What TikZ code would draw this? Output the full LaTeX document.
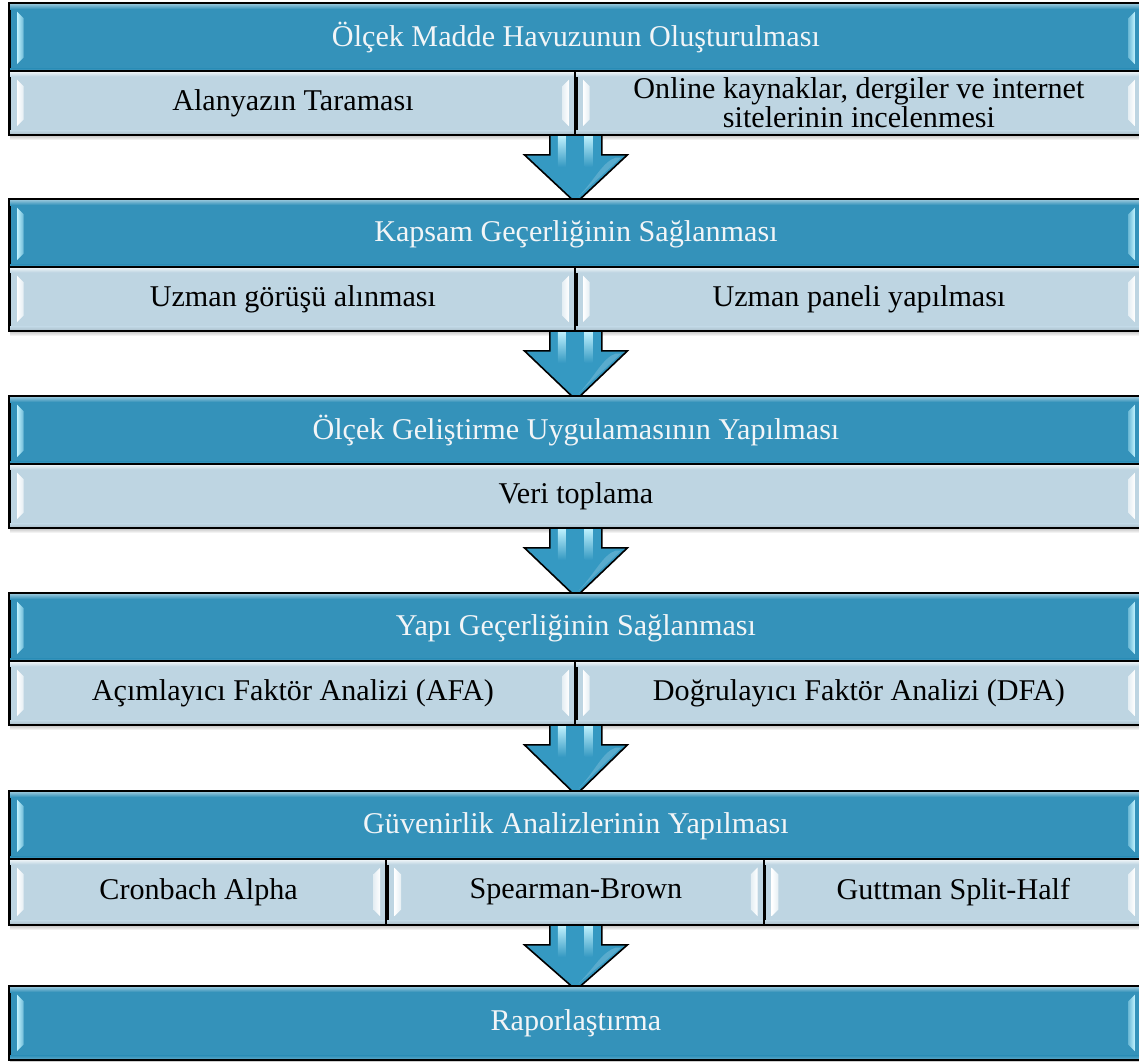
\documentclass[tikz,border=0pt]{standalone}
\usepackage{fontspec}
\setmainfont{Liberation Serif}
\usetikzlibrary{calc,backgrounds}
\definecolor{hdr}{HTML}{3492BA}
\definecolor{subc}{HTML}{BED5E2}
\definecolor{hdrtxt}{HTML}{F2F5F7}
\definecolor{arr}{HTML}{3599C2}
\definecolor{glowH}{HTML}{C2F3FF}
\definecolor{subedge}{HTML}{A9BCC8}

\tikzset{
  cellborder/.style={draw=black, line width=1.4pt},
  hdrcell/.style={cellborder, fill=hdr, text=hdrtxt,
    anchor=north west, inner sep=0pt, minimum width=849pt, minimum height=51pt},
  subcell/.style={cellborder, fill=subc, text=black,
    anchor=north west, inner sep=0pt, minimum height=46.5pt, align=center},
  flowarrow/.style={draw=black, line width=1.2pt, fill=arr, line join=miter}
}

% glossy bevel strips on the left and right inner edges of a cell
\newcommand\cellbevel[3]{%
  \shade[left color=#2, right color=#3]
    let \p1=(#1.north west), \p2=(#1.south west) in
    (\x1+6pt,\y1-6.5pt) -- (\x1+11pt,\y1-11.5pt) -- (\x2+11pt,\y2+11.5pt)
    -- (\x2+6pt,\y2+6.5pt) -- cycle;
  \shade[left color=#3, right color=#2]
    let \p1=(#1.north east), \p2=(#1.south east) in
    (\x1-6pt,\y1-6.5pt) -- (\x1-11pt,\y1-11.5pt) -- (\x2-11pt,\y2+11.5pt)
    -- (\x2-6pt,\y2+6.5pt) -- cycle;
}
\newcommand\hdrdecor[1]{%
  \shade[top color=hdr!45!white, bottom color=hdr]
    let \p1=(#1.north west), \p2=(#1.north east) in
    (\x1,\y1) rectangle (\x2,\y1-4.5pt);
  \shade[top color=hdr, bottom color=hdr!75!white]
    let \p1=(#1.south west), \p2=(#1.south east) in
    (\x1,\y1+3pt) rectangle (\x2,\y1);
  \cellbevel{#1}{glowH}{hdr!60!glowH}%
  \draw[cellborder] (#1.north west) rectangle (#1.south east);
}
\newcommand\subdecor[1]{%
  \shade[top color=white!85!subc, bottom color=subc]
    let \p1=(#1.north west), \p2=(#1.north east) in
    (\x1,\y1) rectangle (\x2,\y1-4pt);
  \shade[top color=subc, bottom color=subedge]
    let \p1=(#1.south west), \p2=(#1.south east) in
    (\x1,\y1+3pt) rectangle (\x2,\y1);
  \cellbevel{#1}{white}{subc!40!white}%
  \draw[cellborder] (#1.north west) rectangle (#1.south east);
}
% soft shadow under a block, from its header to its last cell
\newcommand\blockshadow[2]{%
  \foreach \d in {1,...,6}{
    \fill[black,opacity=0.05]
      ([shift={(1pt,{-\d*0.6pt})}]#1.north west) rectangle
      ([shift={(1pt,{-\d*0.6pt})}]#2.south east);
  }}
% block arrow from the bottom of one block to the header of the next
\newcommand\stagearrow[2]{%
  \path[flowarrow] let \p1=(#1.south), \p2=(#2.north) in
    (\x2-19.5pt,\y1+4pt) -- (\x2-19.5pt,\y1-15pt) -- (\x2-38.6pt,\y1-15pt)
    -- (\x2,\y2-3pt) -- (\x2+38.6pt,\y1-15pt) -- (\x2+19.5pt,\y1-15pt)
    -- (\x2+19.5pt,\y1+4pt) -- cycle;
  \shade[top color=glowH, bottom color=arr] let \p1=(#1.south), \p2=(#2.north) in
    (\x2-13.5pt,\y1) rectangle (\x2-7.5pt,\y1-24pt);
  \shade[top color=glowH, bottom color=arr] let \p1=(#1.south), \p2=(#2.north) in
    (\x2+6.5pt,\y1) rectangle (\x2+12.5pt,\y1-24pt);
  \fill[white,opacity=0.18] let \p1=(#1.south), \p2=(#2.north) in
    (\x2+2pt,\y2+2pt) .. controls (\x2+14pt,\y2+14pt) and (\x2+20pt,\y1-20pt) .. (\x2+30pt,\y1-17pt)
    -- (\x2+34pt,\y1-17pt) -- cycle;
}

\begin{document}
\begin{tikzpicture}[x=0.75pt,y=-0.75pt,font=\fontsize{22.6}{22}\selectfont]
\useasboundingbox (0,0) rectangle (1139,1061);

% stage 1
\node[hdrcell] (h1) at (9,3) {Ölçek Madde Havuzunun Oluşturulması};
\node[subcell,minimum width=424.5pt] (s1a) at (9,71) {Alanyazın Taraması};
\node[subcell,minimum width=424.5pt] (s1b) at (575,71)
  {Online kaynaklar, dergiler ve internet\\sitelerinin incelenmesi};
% stage 2
\node[hdrcell] (h2) at (9,199) {Kapsam Geçerliğinin Sağlanması};
\node[subcell,minimum width=424.5pt] (s2a) at (9,267) {Uzman görüşü alınması};
\node[subcell,minimum width=424.5pt] (s2b) at (575,267) {Uzman paneli yapılması};
% stage 3
\node[hdrcell] (h3) at (9,396) {Ölçek Geliştirme Uygulamasının Yapılması};
\node[subcell,minimum width=849pt] (s3a) at (9,464) {Veri toplama};
% stage 4
\node[hdrcell] (h4) at (9,593) {Yapı Geçerliğinin Sağlanması};
\node[subcell,minimum width=424.5pt] (s4a) at (9,661) {Açımlayıcı Faktör Analizi (AFA)};
\node[subcell,minimum width=424.5pt] (s4b) at (575,661) {Doğrulayıcı Faktör Analizi (DFA)};
% stage 5
\node[hdrcell] (h5) at (9,791) {Güvenirlik Analizlerinin Yapılması};
\node[subcell,minimum width=283pt,minimum height=48pt] (s5a) at (9,859) {Cronbach Alpha};
\node[subcell,minimum width=283pt,minimum height=48pt] (s5b) at (386.33,859) {Spearman-Brown};
\node[subcell,minimum width=283pt,minimum height=48pt] (s5c) at (763.67,859) {Guttman Split-Half};
% stage 6
\node[hdrcell,minimum height=54pt] (h6) at (9,986) {Raporlaştırma};

% glossy edges of every cell
\foreach \cellname in {h1,h2,h3,h4,h5,h6}{\hdrdecor{\cellname}}
\foreach \cellname in {s1a,s1b,s2a,s2b,s3a,s4a,s4b,s5a,s5b,s5c}{\subdecor{\cellname}}

\begin{pgfonlayer}{background}
  \blockshadow{h1}{s1b}
  \blockshadow{h2}{s2b}
  \blockshadow{h3}{s3a}
  \blockshadow{h4}{s4b}
  \blockshadow{h5}{s5c}
  \blockshadow{h6}{h6}
  \stagearrow{s1a}{h2}
  \stagearrow{s2a}{h3}
  \stagearrow{s3a}{h4}
  \stagearrow{s4a}{h5}
  \stagearrow{s5a}{h6}
\end{pgfonlayer}
\end{tikzpicture}
\end{document}
